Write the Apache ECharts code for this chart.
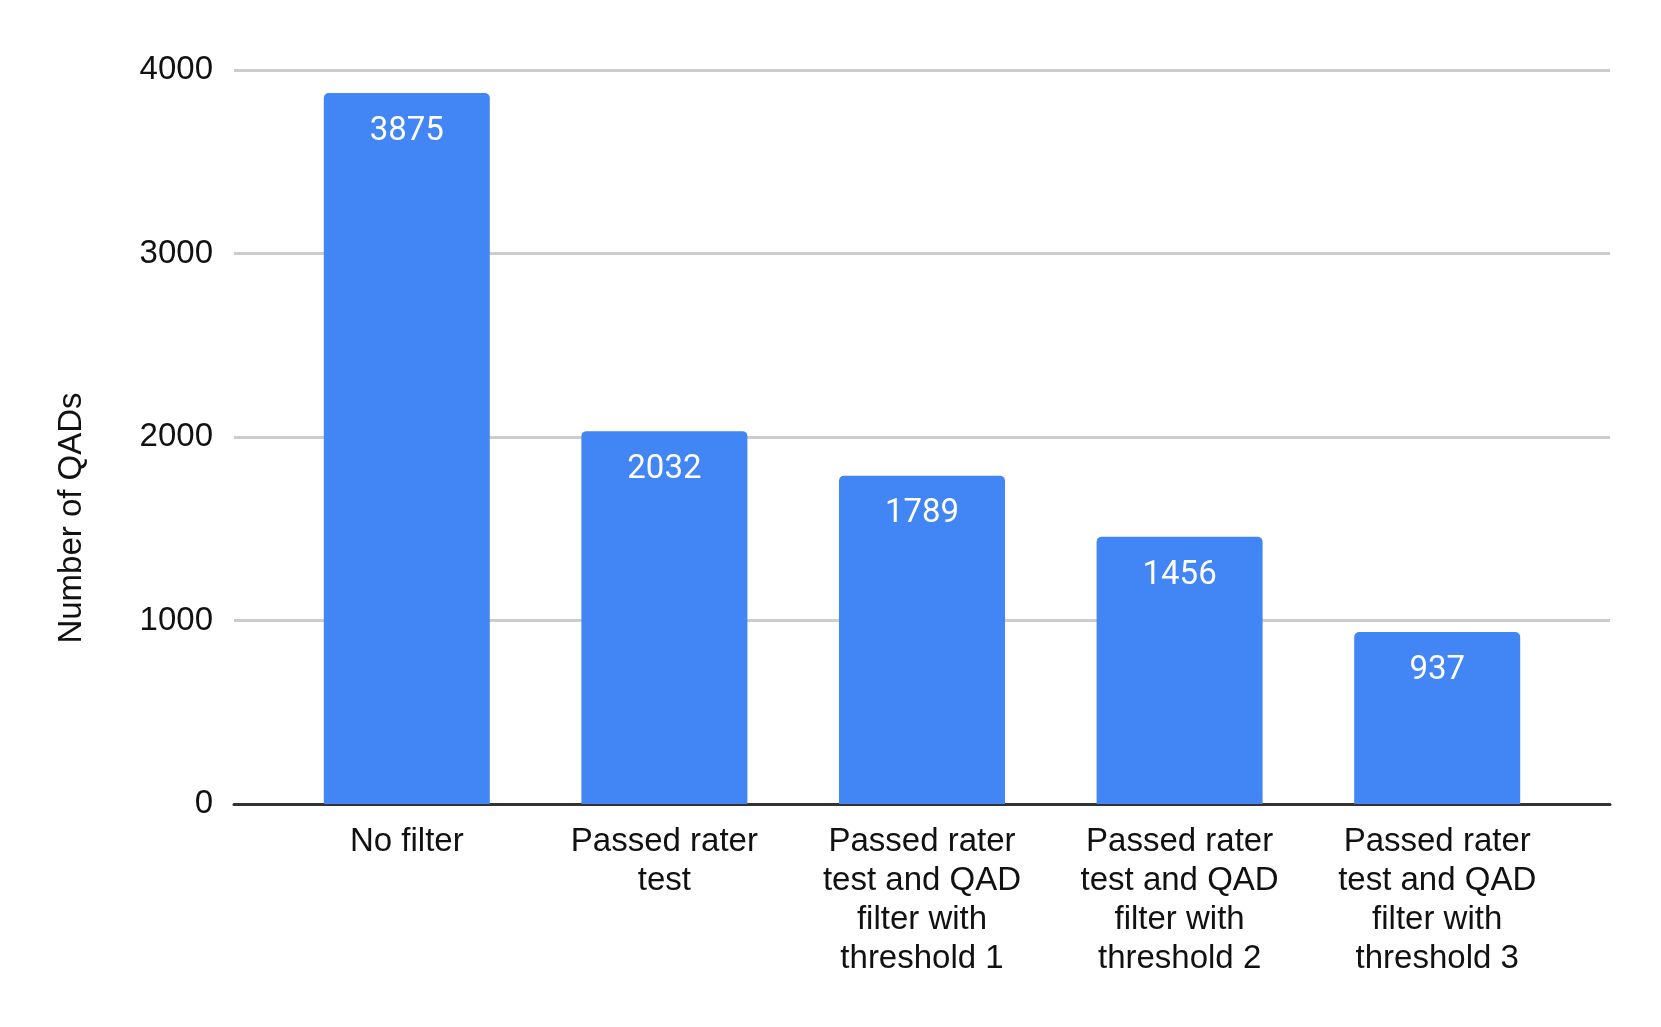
<!DOCTYPE html>
<html>
<head>
<meta charset="utf-8">
<script src="https://cdn.jsdelivr.net/npm/echarts@6/dist/echarts.min.js"></script>
<style>html,body{margin:0;padding:0;background:#fff}#c{width:1661px;height:1027px}</style>
</head>
<body>
<div id="c"></div>
<script>
const categories = [
  "No filter",
  "Passed rater\ntest",
  "Passed rater\ntest and QAD\nfilter with\nthreshold 1",
  "Passed rater\ntest and QAD\nfilter with\nthreshold 2",
  "Passed rater\ntest and QAD\nfilter with\nthreshold 3"
];
const values = [3875, 2032, 1789, 1456, 937];
const yTicks = { min: 0, max: 4000, interval: 1000 };
const yTitle = "Number of QADs";

const chart = echarts.init(document.getElementById('c'), null, { renderer: 'canvas' });
const axisFont = '"Liberation Sans", Arial, sans-serif';
chart.setOption({
  backgroundColor: '#ffffff',
  animation: false,
  grid: [
    { left: 234, right: 51, top: 70, bottom: 223 },
    { left: 278, right: 95, top: 70, bottom: 223 }
  ],
  xAxis: [
    { type: 'value', gridIndex: 0, min: 0, max: 1,
      axisLine: { show: true, lineStyle: { color: '#333333', width: 3 } },
      axisTick: { show: false }, axisLabel: { show: false }, splitLine: { show: false } },
    { type: 'category', gridIndex: 1, data: categories,
      axisLine: { show: false }, axisTick: { show: false },
      axisLabel: { interval: 0, margin: 18, color: '#111111', fontSize: 33, lineHeight: 39,
        fontFamily: axisFont, align: 'center' } }
  ],
  yAxis: [
    { type: 'value', gridIndex: 0, min: yTicks.min, max: yTicks.max, interval: yTicks.interval,
      axisLine: { show: false }, axisTick: { show: false },
      axisLabel: { margin: 21, color: '#111111', fontSize: 33, fontFamily: axisFont,
        padding: [4, 0, 0, 0], formatter: v => String(v) },
      splitLine: { show: true, lineStyle: { color: '#cccccc', width: 3 } } },
    { type: 'value', gridIndex: 1, min: yTicks.min, max: yTicks.max, interval: yTicks.interval, show: false,
      splitLine: { show: false } }
  ],
  graphic: [{
    type: 'text', x: 72, y: 518, rotation: Math.PI / 2,
    style: { text: yTitle, fill: '#111111', font: '33px "Liberation Sans", Arial, sans-serif',
      textAlign: 'center', textVerticalAlign: 'middle' }
  }],
  series: [{
    type: 'bar', xAxisIndex: 1, yAxisIndex: 1, data: values,
    barWidth: 166,
    itemStyle: { color: '#4285F4', borderRadius: [5, 5, 0, 0] },
    label: { show: true, position: 'insideTop', distance: 22, color: '#ffffff', fontSize: 33,
      fontFamily: 'Roboto, sans-serif' },
    z: 1
  }]
});
</script>
</body>
</html>
